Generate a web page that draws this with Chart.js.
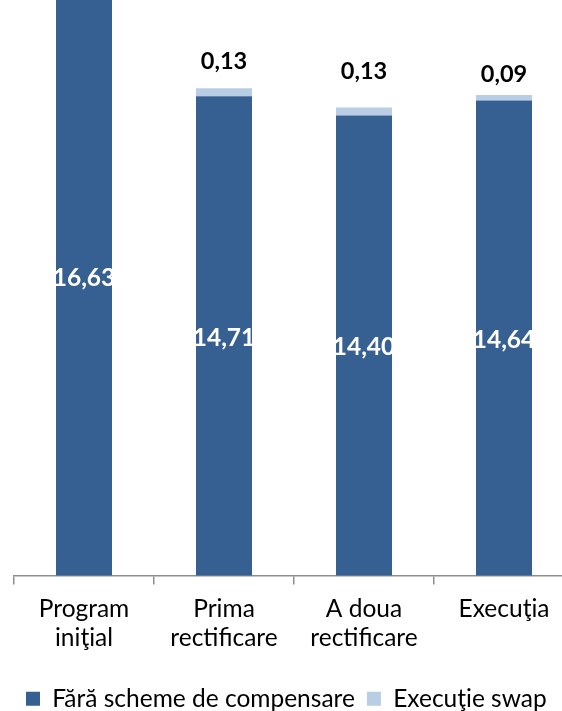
<!DOCTYPE html>
<html>
<head>
<meta charset="utf-8">
<script src="https://cdn.jsdelivr.net/npm/chart.js@4/dist/chart.umd.min.js"></script>
<style>
  html, body { margin: 0; padding: 0; background: #fff; overflow: hidden; }
  #wrap { width: 562px; height: 711px; overflow: hidden; }
</style>
</head>
<body>
<div id="wrap"><canvas id="myChart" width="576" height="721"></canvas></div>
<script>
var categories = [['Program', 'iniţial'], ['Prima', 'rectificare'], ['A doua', 'rectificare'], ['Execuţia']];
var faraScheme = [16.63, 14.71, 14.40, 14.64];
var executieSwap = [null, 0.13, 0.13, 0.09];
var faraLabels = ['16,63', '14,71', '14,40', '14,64'];
var swapLabels = ['', '0,13', '0,13', '0,09'];

var FONT = 'Lato';
var labelLift = [0, 27, 36, 21];   // how far above the bar top each swap label sits

// draws the value labels, white inside the dark bars and black above the light ones
const valueLabels = {
    id: 'valueLabels',
    afterDatasetsDraw(chart) {
        const ctx = chart.ctx;
        const bottom = chart.chartArea.bottom;
        ctx.save();
        ctx.textAlign = 'center';
        ctx.textBaseline = 'middle';
        const m0 = chart.getDatasetMeta(0);
        const m1 = chart.getDatasetMeta(1);
        for (let i = 0; i < faraScheme.length; i++) {
            const b = m0.data[i];
            ctx.font = 'bold 24.5px ' + FONT;
            ctx.fillStyle = '#ffffff';
            ctx.fillText(faraLabels[i], b.x, (b.y + bottom) / 2 + 2);
            if (executieSwap[i] != null) {
                const t = m1.data[i];
                ctx.font = 'bold 23.5px ' + FONT;
                ctx.fillStyle = '#000000';
                ctx.fillText(swapLabels[i], t.x, t.y - labelLift[i]);
            }
        }
        ctx.restore();
    }
};

let myChart = document.getElementById('myChart').getContext('2d');

const barChart = new Chart(myChart, {
    type: 'bar',
    data: {
        labels: categories,
        datasets: [{
            label: 'Fără scheme de compensare',
            data: faraScheme,
            backgroundColor: '#376092',
            barPercentage: 0.4,
            categoryPercentage: 1
        }, {
            label: 'Execuţie swap',
            data: executieSwap,
            backgroundColor: '#B9CDE5',
            barPercentage: 0.4,
            categoryPercentage: 1
        }]
    },
    options: {
        responsive: false,
        animation: false,
        layout: { padding: { left: 14, right: 2, top: 0, bottom: 0 } },
        scales: {
            x: {
                stacked: true,
                afterFit: function (scale) { scale.height = 99; },   // room between axis and legend
                grid: {
                    display: true,
                    drawOnChartArea: false,
                    drawTicks: true,
                    tickLength: 9,
                    color: '#8E8E8E',
                    lineWidth: 1.5
                },
                border: { display: true, color: '#8E8E8E', width: 1.5 },
                ticks: {
                    color: '#000000',
                    padding: 11,
                    maxRotation: 0,
                    autoSkip: false,
                    font: { family: FONT, size: 24.5, lineHeight: 1.15 }
                }
            },
            y: {
                stacked: true,
                display: false,
                min: 7,
                max: 16.258
            }
        },
        plugins: {
            legend: {
                display: true,
                position: 'bottom',
                align: 'start',
                labels: {
                    boxWidth: 14,
                    boxHeight: 14,
                    padding: 12,
                    color: '#000000',
                    font: { family: FONT, size: 24.5 }
                }
            },
            tooltip: { enabled: false }
        }
    },
    plugins: [valueLabels]
});
</script>
</body>
</html>
